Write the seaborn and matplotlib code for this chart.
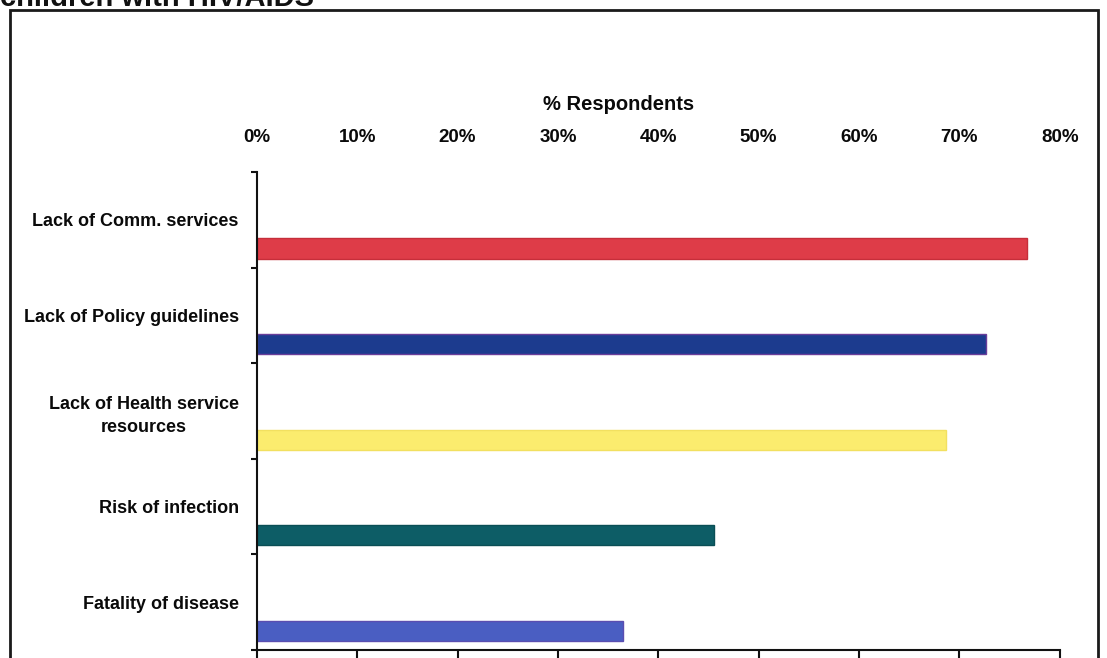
import matplotlib
matplotlib.use('Agg')
import matplotlib.pyplot as plt
from matplotlib.patches import Rectangle
import numpy as np
import pandas as pd
import seaborn as sns

# data
reasons = ['Lack of Comm. services', 'Lack of Policy guidelines',
           'Lack of Health service\nresources', 'Risk of infection', 'Fatality of disease']
pct = [76.7, 72.6, 68.7, 45.5, 36.5]
bar_colors = ['#DE3C48', '#1C3B8E', '#FBEC6E', '#0D5D66', '#4A5EC2']
edge_colors = ['#C62E3A', '#6A3E9A', '#F2E060', '#0A4E55', '#5A4EB0']
x_ticks = [0, 10, 20, 30, 40, 50, 60, 70, 80]
x_labels = [f'{t}%' for t in x_ticks]

sns.set_style('white')
plt.rcParams['font.family'] = ['Liberation Sans', 'DejaVu Sans']
plt.rcParams['text.color'] = '#0a0a0a'

df = pd.DataFrame({'reason': reasons, 'pct': pct})

fig = plt.figure(figsize=(11.07, 6.58), dpi=100)
ax = fig.add_axes([0.232, 0.0122, 0.7254, 0.7264])

sns.barplot(data=df, x='pct', y='reason', hue='reason', palette=bar_colors,
            width=0.21, legend=False, ax=ax, linewidth=1.0, saturation=1)

# bars sit in the lower part of each category band
for patch, ec in zip(ax.patches, edge_colors):
    patch.set_y(patch.get_y() + 0.3)
    patch.set_edgecolor(ec)

ax.set_xlim(0, 80)
ax.set_ylim(4.5, -0.5)

ax.set_xticks(x_ticks)
ax.set_xticklabels(x_labels, fontsize=13.5, fontweight='bold', color='#0a0a0a')
ax.xaxis.set_label_position('top')
ax.set_xlabel('% Respondents', fontsize=14.5, fontweight='bold', color='#0a0a0a')
ax.xaxis.set_label_coords((619 - 257) / 803, 1.0 + 62 / 478)
ax.tick_params(axis='x', top=False, labeltop=True, bottom=True, labelbottom=False,
               length=6, width=1.5, pad=13, color='#111111', direction='out')

ax.set_yticks(range(len(reasons)))
ax.set_yticklabels(reasons, fontsize=13, fontweight='bold', multialignment='center',
                   color='#0a0a0a', linespacing=1.5)
ax.set_yticks(np.arange(-0.5, len(reasons), 1), minor=True)
ax.tick_params(axis='y', which='major', length=0, pad=13)
ax.tick_params(axis='y', which='minor', length=4, width=1.5, color='#111111',
               direction='out', left=True)
ax.set_ylabel('')

for side in ['top', 'right']:
    ax.spines[side].set_visible(False)
for side in ['left', 'bottom']:
    ax.spines[side].set_color('#111111')
    ax.spines[side].set_linewidth(1.5)

# outer frame of the slide and the cut-off title
fig.add_artist(Rectangle((10 / 1107, -0.05), 1088 / 1107, 1 - 10 / 658 + 0.05,
                         transform=fig.transFigure, fill=False, lw=2, ec='#1a1a1a'))
fig.text(0.0, 1 - 6 / 658, 'children with HIV/AIDS', fontsize=21, fontweight='bold',
         ha='left', va='baseline', color='#111111')

fig.savefig('out.png', dpi=100)
